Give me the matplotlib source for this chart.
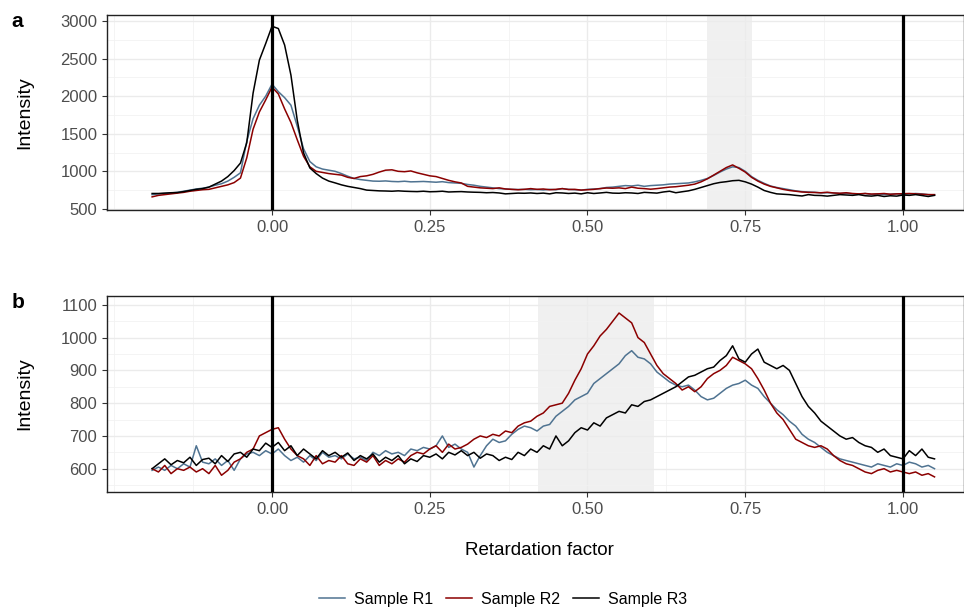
import numpy as np
import matplotlib
matplotlib.use("Agg")
import matplotlib.pyplot as plt
from matplotlib.ticker import MultipleLocator

plt.rcParams['font.family'] = ['Liberation Sans', 'DejaVu Sans']

# Retardation factor grid (step 0.01)
rf = np.round(np.arange(-0.19, 1.0501, 0.01), 2)

# ---- panel a ----
a_r1 = [690, 700, 705, 712, 720, 735, 750, 765, 775, 790,
        815, 835, 870, 920, 980, 1400, 1700, 1880, 2000, 2160,
        2060, 1980, 1880, 1600, 1300, 1130, 1060, 1030, 1015, 1000,
        970, 935, 905, 890, 880, 870, 868, 872, 865, 862,
        868, 860, 862, 865, 860, 855, 862, 850, 845, 840,
        825, 815, 800, 790, 780, 770, 765, 760, 758, 760,
        755, 758, 752, 760, 755, 770, 760, 755, 750, 760,
        765, 770, 785, 790, 800, 810, 805, 815, 800, 810,
        815, 820, 830, 835, 840, 845, 860, 880, 905, 945,
        990, 1030, 1060, 1050, 1000, 930, 880, 840, 805, 785,
        770, 755, 740, 730, 725, 722, 712, 715, 712, 705,
        708, 700, 695, 705, 690, 700, 690, 695, 700, 695,
        700, 705, 700, 690, 685]
a_r2 = [660, 680, 690, 700, 710, 720, 735, 745, 755, 760,
        780, 800, 820, 850, 910, 1180, 1560, 1790, 1950, 2120,
        2030, 1830, 1650, 1420, 1200, 1060, 1000, 985, 970, 960,
        950, 920, 905, 930, 940, 960, 990, 1015, 1020, 1000,
        995, 1005, 980, 960, 940, 930, 905, 880, 860, 845,
        800, 790, 780, 775, 770, 780, 765, 760, 755, 760,
        770, 760, 765, 755, 760, 770, 758, 760, 750, 755,
        760, 770, 778, 775, 780, 770, 790, 775, 770, 762,
        770, 780, 790, 795, 805, 815, 830, 860, 900, 950,
        1000, 1050, 1085, 1040, 990, 920, 870, 830, 800, 780,
        760, 745, 735, 725, 720, 718, 715, 722, 712, 708,
        715, 705, 700, 705, 698, 700, 705, 695, 700, 702,
        705, 700, 695, 690, 690]
a_r3 = [705, 705, 710, 715, 718, 730, 745, 760, 770, 790,
        830, 870, 930, 1010, 1110, 1380, 2040, 2480, 2700, 2930,
        2900, 2680, 2280, 1680, 1245, 1045, 970, 910, 870, 846,
        820, 800, 785, 770, 750, 745, 740, 738, 735, 740,
        735, 732, 730, 735, 728, 730, 735, 725, 728, 730,
        725, 722, 720, 715, 718, 712, 700, 705, 710, 708,
        712, 705, 710, 700, 715, 712, 705, 710, 700, 715,
        705, 712, 720, 710, 708, 715, 712, 705, 720, 715,
        710, 725, 735, 715, 728, 740, 760, 785, 810, 835,
        852, 862, 875, 880, 860, 830, 790, 745, 720, 700,
        695, 690, 680, 672, 690, 680, 678, 670, 680, 690,
        685, 680, 690, 675, 670, 680, 665, 675, 670, 685,
        680, 690, 678, 665, 680]

# ---- panel b ----
b_r1 = [595, 605, 595, 610, 600, 615, 605, 670, 620, 615,
        630, 610, 625, 595, 630, 645, 650, 640, 655, 645,
        660, 640, 625, 635, 620, 640, 625, 650, 635, 640,
        630, 645, 630, 635, 625, 650, 640, 655, 645, 650,
        640, 660, 655, 665, 660, 670, 700, 665, 675, 660,
        650, 605, 640, 670, 690, 680, 685, 705, 720, 730,
        725, 715, 730, 735, 760, 775, 790, 810, 820, 830,
        860, 875, 890, 905, 920, 945, 960, 940, 935, 920,
        895, 880, 865, 855, 850, 855, 840, 820, 810, 815,
        830, 845, 855, 860, 870, 855, 845, 820, 800, 780,
        765, 745, 730, 705, 690, 680, 665, 650, 640, 630,
        625, 620, 615, 610, 605, 615, 610, 605, 615, 610,
        620, 615, 605, 610, 600]
b_r2 = [600, 590, 610, 585, 600, 595, 605, 590, 600, 585,
        610, 580, 595, 620, 630, 650, 660, 700, 710, 720,
        725, 690, 660, 640, 630, 610, 640, 615, 625, 620,
        640, 615, 610, 630, 620, 640, 610, 625, 615, 630,
        620, 640, 650, 645, 660, 670, 650, 675, 660, 665,
        675, 690, 700, 695, 705, 700, 715, 710, 730, 740,
        745, 760, 770, 790, 795, 800, 830, 870, 905, 950,
        975, 1005, 1025, 1050, 1075, 1060, 1045, 1000, 985, 950,
        915, 890, 875, 860, 840, 850, 835, 850, 875, 890,
        900, 915, 940, 930, 920, 905, 875, 840, 800, 770,
        750, 720, 690, 680, 670, 665, 670, 660, 640, 625,
        615, 610, 600, 590, 585, 595, 600, 590, 595, 590,
        585, 590, 580, 585, 575]
b_r3 = [600, 615, 630, 612, 625, 618, 635, 610, 628, 632,
        615, 640, 622, 645, 650, 635, 660, 655, 678, 665,
        680, 655, 670, 640, 660, 645, 630, 655, 640, 650,
        635, 648, 625, 640, 630, 645, 620, 635, 625, 640,
        615, 630, 622, 640, 635, 645, 630, 650, 642, 655,
        640, 650, 632, 645, 640, 625, 635, 628, 650, 640,
        660, 650, 670, 660, 700, 670, 685, 710, 725, 718,
        740, 730, 755, 765, 775, 770, 795, 790, 805, 810,
        820, 830, 840, 850, 865, 880, 885, 895, 905, 910,
        930, 945, 975, 935, 925, 950, 965, 925, 915, 905,
        915, 900, 860, 820, 790, 770, 745, 730, 715, 700,
        690, 695, 680, 670, 665, 650, 660, 640, 635, 630,
        655, 640, 660, 635, 630]

samples = ["Sample R1", "Sample R2", "Sample R3"]
colors = ["#4F7391", "#8B0000", "#000000"]
band_a = (0.689, 0.761)
band_b = (0.422, 0.605)

fig = plt.figure(figsize=(9.64, 6.07), dpi=100)
ax_a = fig.add_axes([0.111, 0.654, 0.889, 0.3213])
ax_b = fig.add_axes([0.111, 0.1895, 0.889, 0.3229])


def style(ax, ylim, major, minor):
    ax.set_xlim(-0.2615, 1.0967)
    ax.set_ylim(*ylim)
    ax.xaxis.set_major_locator(MultipleLocator(0.25))
    ax.xaxis.set_minor_locator(MultipleLocator(0.125))
    ax.yaxis.set_major_locator(MultipleLocator(major))
    ax.yaxis.set_minor_locator(MultipleLocator(minor))
    ax.set_xticks([0, 0.25, 0.5, 0.75, 1.0])
    ax.set_xticklabels(["0.00", "0.25", "0.50", "0.75", "1.00"])
    ax.grid(which="major", color="#EBEBEB", lw=1.0, zorder=0)
    ax.grid(which="minor", color="#F2F2F2", lw=0.6, zorder=0)
    ax.set_axisbelow(True)
    ax.tick_params(which="major", direction="out", length=3.5, width=0.8,
                   color="#333333", labelsize=12, labelcolor="#4D4D4D")
    ax.tick_params(which="minor", length=0)
    for s in ax.spines.values():
        s.set_linewidth(1.0)
        s.set_color("#222222")
    ax.set_ylabel("Intensity", fontsize=14)
    ax.yaxis.set_label_coords(-0.086, 0.5)


style(ax_a, (485, 3080), 500, 250)
style(ax_b, (529, 1127), 100, 50)

ax_a.axvspan(*band_a, color="#F0F0F0", lw=0, zorder=0.5)
ax_b.axvspan(*band_b, color="#F0F0F0", lw=0, zorder=0.5)

for ax, series in ((ax_a, (a_r1, a_r2, a_r3)), (ax_b, (b_r1, b_r2, b_r3))):
    for vals, c, lab in zip(series, colors, samples):
        ax.plot(rf, vals, color=c, lw=1.1, label=lab, zorder=2)
    ax.axvline(0, color="black", lw=2.3, zorder=3)
    ax.axvline(1, color="black", lw=2.3, zorder=3)

fig.text(0.012, 0.965, "a", fontsize=15, fontweight="bold", va="center")
fig.text(0.012, 0.502, "b", fontsize=15, fontweight="bold", va="center")
fig.text(0.56, 0.093, "Retardation factor", fontsize=13.5, ha="center", va="center")

handles, labels = ax_b.get_legend_handles_labels()
fig.legend(handles, labels, loc="center", bbox_to_anchor=(0.522, 0.013), ncol=3,
           frameon=False, fontsize=11.5, handlelength=1.6, columnspacing=0.8,
           handletextpad=0.6)

fig.savefig("out.png", dpi=100)
